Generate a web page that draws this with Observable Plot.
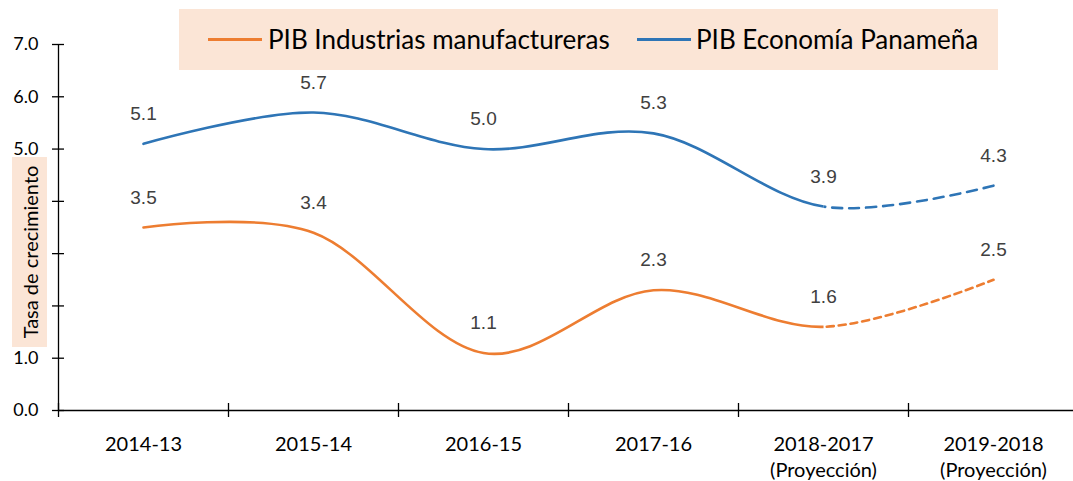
<!DOCTYPE html>
<html><head><meta charset="utf-8">
<script src="https://cdn.jsdelivr.net/npm/d3@7"></script>
<script src="https://cdn.jsdelivr.net/npm/@observablehq/plot@0.6"></script>
<style>
body{margin:0;background:#fff}
#wrap{position:relative;width:1073px;height:481px;overflow:hidden}
#wrap svg{position:absolute;left:0;top:0}
.legend{position:absolute;left:179px;top:9px;width:819px;height:61px;background:#FBE5D6;font-family:Lato,sans-serif;font-size:26px;color:#000}
.legend .sw{position:absolute;top:29px;height:3px;width:54px}
.legend .lb{position:absolute;top:0;line-height:60px;white-space:nowrap}
.ybox{position:absolute;left:12px;top:157px;width:35px;height:190px;background:#FBE5D6}
.ybox span{position:absolute;left:50%;top:50%;transform:translate(-50%,-50%) rotate(-90deg);white-space:nowrap;font-family:Lato,sans-serif;font-size:20px;color:#000}
</style></head><body>
<div id="wrap"></div>
<script>
const categories = ["2014-13","2015-14","2016-15","2017-16","2018-2017\n(Proyección)","2019-2018\n(Proyección)"];
const industria = [3.5, 3.4, 1.1, 2.3, 1.6, 2.5];
const economia = [5.1, 5.7, 5.0, 5.3, 3.9, 4.3];
const yTicks = [0, 1, 2, 3, 4, 5, 6, 7];
const seriesNames = ["PIB Industrias manufactureras", "PIB Economía Panameña"];
const colors = ["#ED7D31", "#2E75B6"];
const lastActual = 4; // index of last non-projected point
const yTitle = "Tasa de crecimiento";

const rows = s => s.map((v, i) => ({i, x: i + 0.5, v}));
const ind = rows(industria), eco = rows(economia);
const xEdges = d3.range(categories.length + 1);

const lineOpts = (c, dash) => ({x: "x", y: "v", stroke: c, strokeWidth: 2.6, curve: "cardinal", strokeDasharray: dash});
const labelOpts = {x: "x", y: "v", text: d => d.v.toFixed(1), dy: -30, fill: "#404040", fontSize: 19, fontFamily: "Liberation Sans, Arial, sans-serif"};

const chart = Plot.plot({
  width: 1073, height: 481,
  marginLeft: 58, marginRight: -5, marginTop: 44, marginBottom: 71,
  x: {type: "linear", domain: [0, categories.length], axis: null},
  y: {domain: [0, 7], axis: null},
  style: {background: "transparent", overflow: "visible"},
  marks: [
    Plot.ruleY([0], {stroke: "#000", strokeWidth: 1.3}),
    Plot.ruleX([0], {y1: () => 0, y2: () => 7, stroke: "#000", strokeWidth: 1.3}),
    Plot.ruleX(xEdges, {x: d => d, y1: () => 0, y2: () => 0, insetTop: -7, insetBottom: -7, stroke: "#000", strokeWidth: 1.3}),
    Plot.ruleY(yTicks, {y: d => d, x1: () => 0, x2: () => 0, insetLeft: -6, insetRight: -6, stroke: "#000", strokeWidth: 1.3}),
    Plot.text(yTicks, {x: () => 0, y: d => d, text: d => d.toFixed(1), dx: -20, textAnchor: "end", fill: "#000", fontSize: 18, fontFamily: "Lato, sans-serif"}),
    Plot.text(categories, {x: (d, i) => i + 0.5, y: () => 0, text: d => d, dy: 22, lineAnchor: "top", lineHeight: 1.3, fill: "#000", fontSize: 20, fontFamily: "Lato, sans-serif"}),
    Plot.line(ind, lineOpts(colors[0])),
    Plot.line(ind, lineOpts(colors[0], "7,5")),
    Plot.line(eco, lineOpts(colors[1])),
    Plot.line(eco, lineOpts(colors[1], "10,7")),
    Plot.text(ind, labelOpts),
    Plot.text(eco, labelOpts)
  ]
});

// split each line into solid (actual) and dashed (projection) parts
const ns = "http://www.w3.org/2000/svg";
const xc = chart.scale("x").apply(lastActual + 0.5);
const defs = document.createElementNS(ns, "defs");
function addClip(id, x0, x1) {
  const cp = document.createElementNS(ns, "clipPath");
  cp.setAttribute("id", id);
  const r = document.createElementNS(ns, "rect");
  r.setAttribute("x", x0); r.setAttribute("y", 0);
  r.setAttribute("width", x1 - x0); r.setAttribute("height", 481);
  cp.appendChild(r); defs.appendChild(cp);
}
addClip("clip-solid", -10, xc);
addClip("clip-dash", xc, 1200);
chart.insertBefore(defs, chart.firstChild);
const lineGroups = chart.querySelectorAll('g[aria-label="line"]');
lineGroups.forEach((g, k) => g.setAttribute("clip-path", k % 2 === 0 ? "url(#clip-solid)" : "url(#clip-dash)"));

const wrap = document.getElementById("wrap");
wrap.appendChild(chart);

const ybox = document.createElement("div");
ybox.className = "ybox";
ybox.innerHTML = `<span>${yTitle}</span>`;
wrap.appendChild(ybox);

const legend = document.createElement("div");
legend.className = "legend";
const swX = [29, 458], lbX = [89, 517];
seriesNames.forEach((n, k) => {
  const sw = document.createElement("div");
  sw.className = "sw"; sw.style.left = swX[k] + "px"; sw.style.background = colors[k];
  const lb = document.createElement("div");
  lb.className = "lb"; lb.style.left = lbX[k] + "px"; lb.textContent = n;
  legend.appendChild(sw); legend.appendChild(lb);
});
wrap.appendChild(legend);
</script>
</body></html>
